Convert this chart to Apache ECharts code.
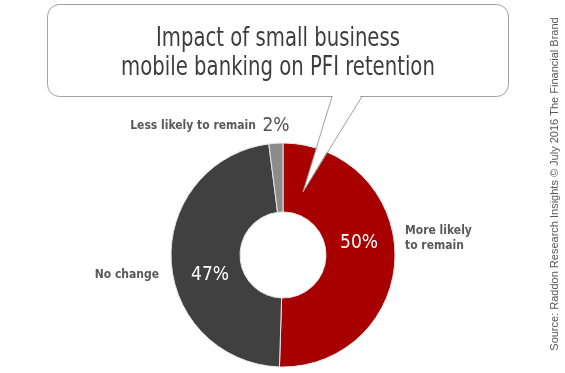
<!DOCTYPE html>
<html>
<head>
<meta charset="utf-8">
<script src="https://cdn.jsdelivr.net/npm/echarts@6/dist/echarts.min.js"></script>
<style>html,body{margin:0;padding:0;background:#fff;}#c{width:565px;height:373px;}</style>
</head>
<body>
<div id="c"></div>
<script>
const categories = ['More likely to remain', 'No change', 'Less likely to remain'];
const nameLabels = ['More likely\nto remain', 'No change', 'Less likely to remain'];
const values = [50, 47, 2];
const colors = ['#a80000', '#404040', '#8c8c8c'];
const titleLines = ['Impact of small business', 'mobile banking on PFI retention'];
const sourceText = 'Source: Raddon Research Insights \u00a9 July 2016 The Financial Brand';

const NARROW = "'DejaVu Sans Condensed', 'Liberation Sans Narrow', sans-serif";
const pctPos = [[359, 243, 'center'], [210, 275, 'center'], [276, 126, 'center']];
const namePos = [[405, 238, 'left'], [159, 275, 'right'], [256, 126, 'right']];
const pctColors = ['#ffffff', '#ffffff', '#505050'];

const chart = echarts.init(document.getElementById('c'), null, {renderer: 'canvas'});
const pieData = categories.map((c, i) => ({name: c, value: values[i], itemStyle: {color: colors[i]}}));

chart.setOption({
  animation: false,
  graphic: [
    {
      type: 'rect', z: 50,
      shape: {x: 47.5, y: 4.5, width: 461, height: 92, r: 12},
      style: {fill: '#ffffff', stroke: '#a0a0a0', lineWidth: 1}
    },
    {
      type: 'polygon', z: 51,
      shape: {points: [[333, 95], [361, 95], [303, 192]]},
      style: {fill: '#ffffff'}
    },
    {
      type: 'polyline', z: 52,
      shape: {points: [[332, 96.5], [303, 192], [362, 96.5]]},
      style: {stroke: '#a0a0a0', lineWidth: 1, fill: null}
    },
    {
      type: 'group', x: 278, y: 24, scaleX: 0.81, z: 60,
      children: [{
        type: 'text', z: 60,
        style: {text: titleLines.join('\n'), fontFamily: NARROW, fontSize: 27, lineHeight: 29, fill: '#3d3d3d', align: 'center', verticalAlign: 'top'}
      }]
    },
    {
      type: 'text', z: 50, x: 555, y: 184, rotation: Math.PI / 2,
      style: {text: sourceText, fontFamily: "'Liberation Sans', Arial, sans-serif", fontSize: 11, fill: '#595959', align: 'center', verticalAlign: 'middle'}
    }
  ],
  series: [
    {
      type: 'pie', radius: [43, 112], center: [283, 255], startAngle: 90, clockwise: true,
      itemStyle: {borderColor: '#e6e6e6', borderWidth: 1},
      label: {
        show: true, position: 'outside', fontFamily: NARROW, fontSize: 19,
        formatter: p => p.value + '%',
        color: '#fff'
      },
      labelLine: {show: false},
      labelLayout: p => ({x: pctPos[p.dataIndex][0], y: pctPos[p.dataIndex][1], align: pctPos[p.dataIndex][2], verticalAlign: 'middle'}),
      data: pieData.map((d, i) => Object.assign({}, d, {label: {color: pctColors[i]}})),
      emphasis: {disabled: true}, silent: true
    },
    {
      type: 'pie', radius: [43, 112], center: [283, 255], startAngle: 90, clockwise: true,
      itemStyle: {color: 'rgba(0,0,0,0)', borderWidth: 0},
      label: {
        show: true, position: 'outside', fontFamily: NARROW, fontSize: 12, fontWeight: 'bold',
        color: '#595959', lineHeight: 15,
        formatter: p => nameLabels[p.dataIndex]
      },
      labelLine: {show: false},
      labelLayout: p => ({x: namePos[p.dataIndex][0], y: namePos[p.dataIndex][1], align: namePos[p.dataIndex][2], verticalAlign: 'middle'}),
      data: categories.map((c, i) => ({name: c, value: values[i]})),
      emphasis: {disabled: true}, silent: true
    }
  ]
});
</script>
</body>
</html>
